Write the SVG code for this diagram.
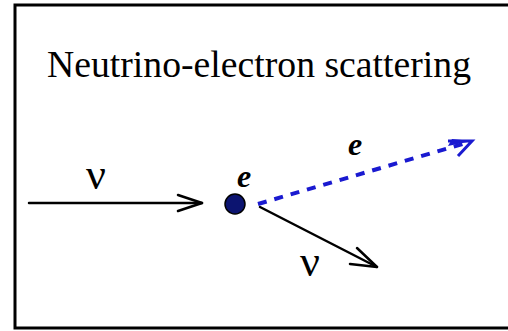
<svg xmlns="http://www.w3.org/2000/svg" width="508" height="331" viewBox="0 0 508 331">
<defs>
<style>
.t{font-family:"Liberation Serif","Times New Roman",serif;fill:#000}
.lbl{font-size:44px}
.e{font-size:32px;font-style:italic;font-weight:bold}
.ln{fill:none;stroke:#000;stroke-width:2.5;stroke-linecap:round;stroke-linejoin:round}
.bl{fill:none;stroke:#1a1ad0;stroke-width:4}
</style>
</defs>
<rect x="0" y="0" width="508" height="331" fill="#fff"/>
<rect x="15" y="5" width="520" height="323" fill="none" stroke="#000" stroke-width="3"/>
<text class="t" x="47" y="77" font-size="37" textLength="424" lengthAdjust="spacingAndGlyphs">Neutrino-electron scattering</text>
<g id="connectors">
<line class="ln" x1="29" y1="203" x2="202" y2="203"/>
<polyline class="ln" points="178,195 202,203 178,211"/>
<line class="bl" x1="258" y1="204" x2="466" y2="143" stroke-dasharray="9,8"/>
<polygon points="472,141 452,139 448,146" fill="#1a1ad0"/>
<polyline fill="none" stroke="#1a1ad0" stroke-width="3" points="448,141 472,141 458,156"/>
<line class="ln" x1="260" y1="207" x2="377" y2="267" stroke-width="4"/>
<polyline class="ln" points="357,248 377,267 350,264" stroke-width="3"/>
</g>
<g id="nu-in"><text class="t lbl" x="96" y="189" text-anchor="middle">ν</text></g>
<g id="electron">
<circle cx="235" cy="204" r="10" fill="#0c1470" stroke="#000" stroke-width="1.5"/>
<text class="t e" x="244" y="187" text-anchor="middle">e</text>
</g>
<g id="e-out"><text class="t e" x="355" y="155" text-anchor="middle">e</text></g>
<g id="nu-out"><text class="t lbl" x="310" y="276" text-anchor="middle">ν</text></g>
</svg>
